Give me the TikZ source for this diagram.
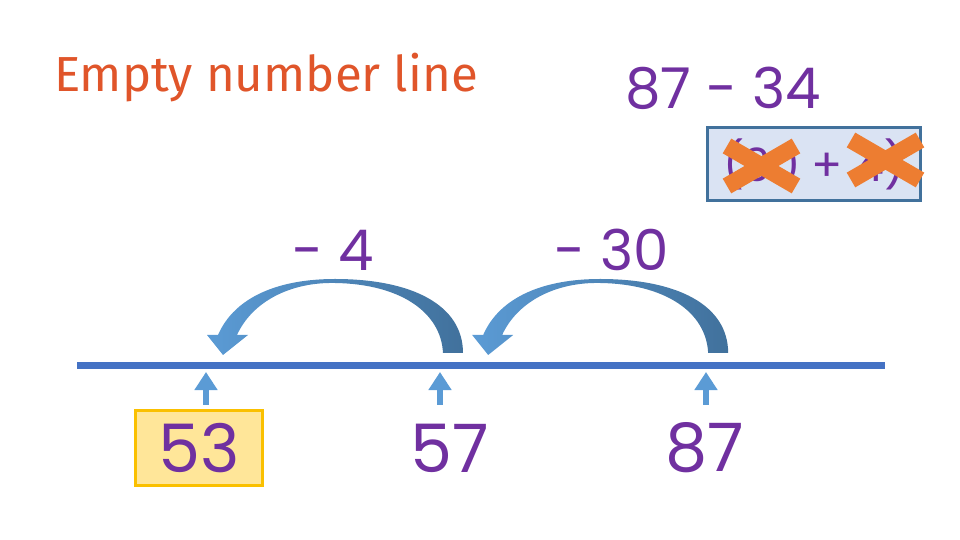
\documentclass[tikz,border=0pt]{standalone}
\usepackage{fontspec}
\setmainfont{Poppins}
\newfontfamily\titlefont{Fira Sans}
\usetikzlibrary{arrows.meta}
\definecolor{lessonPurple}{RGB}{112,48,160}
\definecolor{lessonOrange}{RGB}{224,85,42}
\definecolor{crossOrange}{RGB}{237,125,49}
\definecolor{lineBlue}{RGB}{68,114,196}
\definecolor{arrowBlue}{RGB}{91,155,213}
\definecolor{arrowDark}{RGB}{65,113,156}
\definecolor{boxBlue}{RGB}{218,227,243}
\definecolor{boxGold}{RGB}{250,192,0}
\definecolor{boxCream}{RGB}{255,230,153}

\begin{document}
\begin{tikzpicture}[x=0.01cm, y=-0.01cm]
  % Styles
  \tikzstyle{title} = [text=lessonOrange, font=\titlefont\fontsize{14}{17}\selectfont]
  \tikzstyle{sum} = [text=lessonPurple, font=\fontsize{16}{19}\selectfont]
  \tikzstyle{split} = [rectangle, draw=arrowDark, line width=0.03cm, fill=boxBlue, text=lessonPurple, minimum width=2.13cm, minimum height=0.72cm, inner sep=0pt, font=\fontsize{13}{16}\selectfont]
  \tikzstyle{num} = [text=lessonPurple, font=\fontsize{19}{23}\selectfont]
  \tikzstyle{answer} = [num, rectangle, draw=boxGold, line width=0.03cm, fill=boxCream, minimum width=1.27cm, minimum height=0.75cm]
  \tikzstyle{cross} = [crossOrange, line width=0.17cm]
  \tikzstyle{tick} = [-{Triangle[width=0.22cm, length=0.18cm]}, arrowBlue, line width=0.06cm]
  \tikzstyle{jump} = [left color=arrowBlue, right color=arrowDark]

  \useasboundingbox (0,0) rectangle (960,540);

  % Headings
  \node[title] (heading) at (266,78) {Empty number line};
  \node[sum] (question) at (723,88) {87 - 34};
  \node[split] (parts) at (814,164) {(30 + 4)};

  % Crossed-out parts
  \draw[cross] (727,146) -- (796,186);
  \draw[cross] (727,186) -- (796,146);
  \draw[cross] (851,140) -- (920,180);
  \draw[cross] (851,180) -- (920,140);

  % Jump labels
  \node[sum] (jumpfour) at (333,250) {- 4};
  \node[sum] (jumpthirty) at (612,250) {- 30};

  % Jumps
  \foreach \shift in {0cm, 2.65cm} {
    \begin{scope}[xshift=\shift]
      \shade[jump] (443,353) .. controls (441,312) and (400,284) .. (335,283)
        .. controls (290,282) and (252,302) .. (237,335) -- (248,335) -- (223,355)
        -- (207,335) -- (218,335) .. controls (235,296) and (280,279) .. (335,279)
        .. controls (412,279) and (463,305) .. (463,353) -- cycle;
    \end{scope}
  }

  % Number line
  \coordinate (start) at (77,366);
  \coordinate (end) at (885,366);
  \draw[lineBlue, line width=0.07cm] (start) -- (end);

  % Numbers
  \node[answer] (n53) at (199,448) {53};
  \node[num] (n57) at (450,448) {57};
  \node[num] (n87) at (705,448) {87};

  % Pointers
  \foreach \x/\n in {206/53, 440/57, 706/87} {
    \coordinate (b\n) at (\x,405);
    \coordinate (t\n) at (\x,372);
    \draw[tick] (b\n) -- (t\n);
  }
\end{tikzpicture}
\end{document}
